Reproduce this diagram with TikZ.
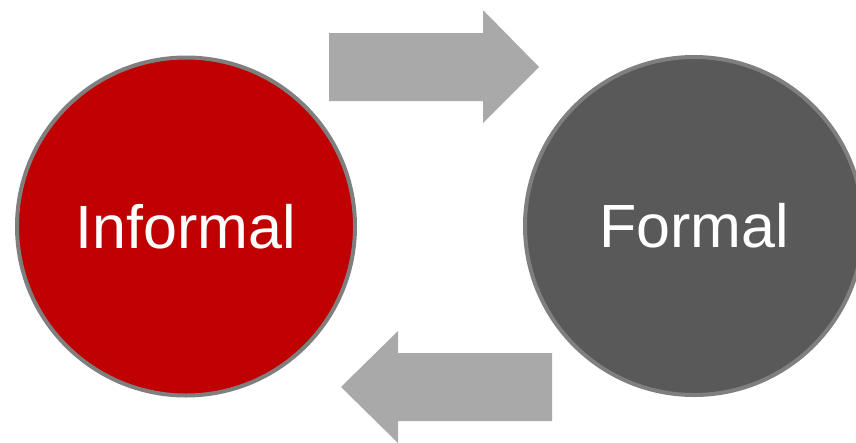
\documentclass[tikz,border=0pt]{standalone}
\usepackage{fontspec}
\setmainfont{Liberation Sans}
\definecolor{rojo}{RGB}{192,0,0}
\definecolor{oscuro}{RGB}{89,89,89}
\definecolor{borde}{RGB}{127,127,127}
\definecolor{flecha}{RGB}{169,169,169}
\tikzset{
  circulo/.style={circle, draw=borde, line width=4pt, minimum size=338pt,
    inner sep=0pt, text=white, font=\fontsize{61}{72}\selectfont}
}
\begin{document}
\begin{tikzpicture}[x=1pt,y=-1pt]
\useasboundingbox (0,0) rectangle (856,442);
% Circulos
\node[circulo, fill=rojo] (informal) at (186,226.5) {Informal};
\node[circulo, fill=oscuro] (formal) at (694,226) {Formal};
% Flecha superior
\fill[flecha] (329,33) -- (483,33) -- (483,10) -- (539,67) -- (483,123) -- (483,101) -- (329,101) -- cycle;
% Flecha inferior
\fill[flecha] (552,353) -- (398,353) -- (398,331) -- (341,387) -- (398,443) -- (398,421) -- (552,421) -- cycle;
\end{tikzpicture}
\end{document}
